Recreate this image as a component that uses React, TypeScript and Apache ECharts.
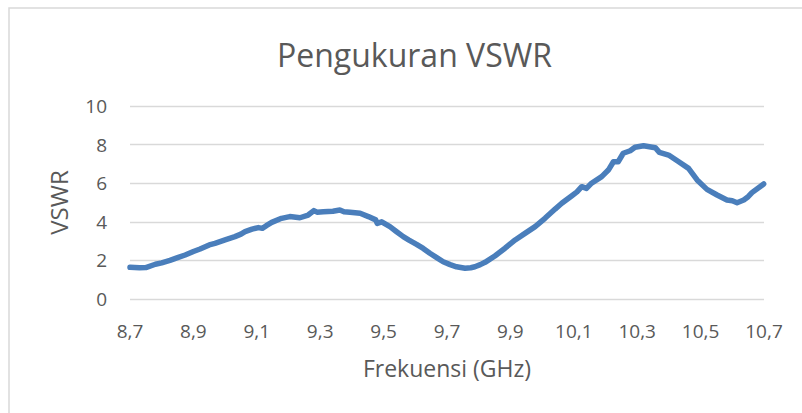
import React, { useEffect, useRef } from "react";
import * as echarts from "echarts";

const TITLE = "Pengukuran VSWR";
const X_NAME = "Frekuensi (GHz)";
const Y_NAME = "VSWR";

const xTicks = [8.7, 8.9, 9.1, 9.3, 9.5, 9.7, 9.9, 10.1, 10.3, 10.5, 10.7];

const freq = [
  8.7, 8.73, 8.75, 8.78, 8.8, 8.826, 8.85, 8.874, 8.9, 8.921, 8.95, 8.968, 9.0,
  9.031, 9.05, 9.063, 9.085, 9.105, 9.118, 9.13, 9.147, 9.178, 9.204, 9.236,
  9.262, 9.28, 9.29, 9.31, 9.34, 9.362, 9.375, 9.394, 9.426, 9.452, 9.475, 9.48,
  9.494, 9.52, 9.54, 9.562, 9.58, 9.604, 9.625, 9.646, 9.67, 9.688, 9.71, 9.73,
  9.757, 9.775, 9.788, 9.805, 9.82, 9.851, 9.883, 9.915, 9.946, 9.978, 10.009,
  10.041, 10.062, 10.093, 10.11, 10.125, 10.14, 10.156, 10.188, 10.209, 10.225,
  10.24, 10.256, 10.278, 10.293, 10.32, 10.357, 10.37, 10.399, 10.431, 10.462,
  10.489, 10.52, 10.552, 10.583, 10.6, 10.615, 10.636, 10.65, 10.662, 10.699,
];

const vswr = [
  1.64, 1.62, 1.63, 1.8, 1.87, 2.0, 2.14, 2.28, 2.46, 2.59, 2.8, 2.88, 3.06,
  3.23, 3.36, 3.49, 3.62, 3.7, 3.66, 3.8, 3.97, 4.18, 4.27, 4.21,
  4.35, 4.58, 4.5, 4.52, 4.55, 4.61, 4.52, 4.49, 4.44, 4.27, 4.1, 3.92,
  4.0, 3.75, 3.5, 3.23, 3.05, 2.83, 2.62, 2.37, 2.12, 1.93, 1.78, 1.67,
  1.59, 1.62, 1.67, 1.78, 1.9, 2.23, 2.63, 3.06, 3.4, 3.75, 4.18,
  4.66, 4.96, 5.34, 5.55, 5.82, 5.73, 6.0, 6.34, 6.68, 7.11,
  7.11, 7.55, 7.68, 7.86, 7.94, 7.84, 7.6, 7.46, 7.11, 6.77,
  6.17, 5.68, 5.39, 5.13, 5.09, 4.99, 5.13, 5.3, 5.51, 5.96,
];

const FONT = "Open Sans";
const TEXT = "#595959";

export default function App() {
  const ref = useRef<HTMLDivElement>(null);
  useEffect(() => {
    if (!ref.current) return;
    const chart = echarts.init(ref.current, null, { renderer: "svg" });
    chart.setOption({
      animation: false,
      backgroundColor: "#ffffff",
      textStyle: { fontFamily: FONT },
      title: {
        text: TITLE,
        left: 272,
        top: 33,
        textStyle: { fontFamily: FONT, fontSize: 32, fontWeight: "normal", color: TEXT },
      },
      graphic: [
        {
          type: "rect",
          shape: { x: 9, y: 8, width: 1000, height: 1000 },
          style: { fill: "none", stroke: "#d9d9d9", lineWidth: 1.5 },
          silent: true,
        },
      ],
      grid: { left: 130, right: 38, top: 106, bottom: 114, containLabel: false },
      xAxis: {
        type: "value",
        min: 8.7,
        max: 10.7,
        name: X_NAME,
        nameLocation: "middle",
        nameGap: 57,
        nameTextStyle: { fontFamily: FONT, fontSize: 23, color: TEXT },
        axisLine: { show: false },
        axisTick: { show: false },
        splitLine: { show: false },
        axisLabel: {
          customValues: xTicks,
          margin: 22,
          fontFamily: FONT,
          fontSize: 19,
          color: TEXT,
          formatter: (v: number) => v.toFixed(1).replace(".", ","),
        },
      },
      yAxis: {
        type: "value",
        min: 0,
        max: 10,
        interval: 2,
        name: Y_NAME,
        nameLocation: "middle",
        nameGap: 60,
        nameTextStyle: { fontFamily: FONT, fontSize: 24, color: TEXT },
        axisLine: { show: false },
        axisTick: { show: false },
        splitLine: { show: true, lineStyle: { color: "#d9d9d9", width: 1.3 } },
        axisLabel: { margin: 23, fontFamily: FONT, fontSize: 19, color: TEXT },
      },
      series: [
        {
          type: "line",
          data: freq.map((f, i) => [f, vswr[i]]),
          showSymbol: false,
          smooth: false,
          lineStyle: { color: "#4a7ebb", width: 5.5, cap: "round", join: "round" },
          itemStyle: { color: "#4a7ebb" },
        },
      ],
    });
    return () => chart.dispose();
  }, []);
  return (
    <div
      ref={ref}
      style={{ position: "fixed", left: 0, top: 0, width: 802, height: 413 }}
    />
  );
}
